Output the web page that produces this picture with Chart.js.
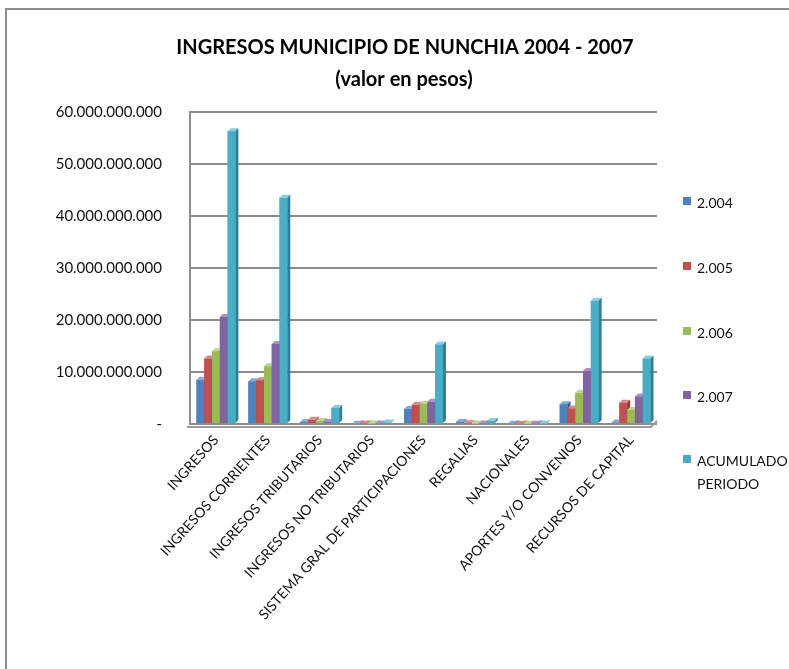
<!DOCTYPE html>
<html>
<head>
<meta charset="utf-8">
<script src="https://cdn.jsdelivr.net/npm/chart.js@4.4.1/dist/chart.umd.min.js"></script>
<style>
  body { margin: 0; background: #fff; font-family: Lato, "Open Sans", sans-serif; }
  #wrap { position: relative; width: 789px; height: 669px; overflow: hidden; }
  #frame { position: absolute; left: 5px; top: 8px; width: 800px; height: 700px;
           border-top: 2px solid #8c8c8c; border-left: 2px solid #8c8c8c; }
  #chart { position: absolute; left: 0; top: 0; }
  #legend { position: absolute; left: 683px; top: 0; font-size: 14px; color: #111; }
  .item { position: absolute; left: 0; white-space: nowrap; line-height: 23px; }
  .item i { display: inline-block; width: 8px; height: 8px; margin-right: 6px; vertical-align: 3px; }
  .item span { display: inline-block; vertical-align: top; }
</style>
</head>
<body>
<div id="wrap">
  <div id="frame"></div>
  <canvas id="chart" width="789" height="669"></canvas>
  <div id="legend"></div>
</div>
<script>
// categories and series (pesos)
const categories = ['INGRESOS', 'INGRESOS CORRIENTES', 'INGRESOS TRIBUTARIOS', 'INGRESOS NO TRIBUTARIOS',
  'SISTEMA GRAL DE PARTICIPACIONES', 'REGALIAS', 'NACIONALES', 'APORTES Y/O CONVENIOS', 'RECURSOS DE CAPITAL'];
const seriesNames = ['2.004', '2.005', '2.006', '2.007', ['ACUMULADO', 'PERIODO']];
const y2004 = [8.5e9, 8.2e9, 0.4e9, 0.05e9, 2.9e9, 0.4e9, 0.05e9, 3.8e9, 0.3e9];
const y2005 = [12.6e9, 8.4e9, 0.8e9, 0.1e9, 3.7e9, 0.15e9, 0.05e9, 3.0e9, 4.1e9];
const y2006 = [14.0e9, 11.1e9, 0.6e9, 0.1e9, 3.9e9, 0.1e9, 0.05e9, 6.0e9, 2.7e9];
const y2007 = [20.6e9, 15.4e9, 0.4e9, 0.1e9, 4.3e9, 0.1e9, 0.05e9, 10.2e9, 5.3e9];
const acumulado = [56.3e9, 43.5e9, 3.1e9, 0.3e9, 15.3e9, 0.6e9, 0.1e9, 23.7e9, 12.6e9];
const yTicks = [0, 10e9, 20e9, 30e9, 40e9, 50e9, 60e9];
const titleLines = ['INGRESOS MUNICIPIO DE NUNCHIA 2004 - 2007', '(valor en pesos)'];

const fronts = ['#4F81BD', '#C0504D', '#9BBB59', '#8064A2', '#4BACC6'];
const tops   = ['#86A8D6', '#D98A88', '#BDD68F', '#A790C6', '#86CFE2'];
const sides  = ['#385D8A', '#8C3836', '#71893F', '#5C4776', '#2F7F95'];
const D = 3;

const fmt = v => v === 0 ? '-' : String(v).replace(/\B(?=(\d{3})+(?!\d))/g, '.');

// fake 3d: redraw bars left to right with a top and a right side face
const bar3d = {
  id: 'bar3d',
  beforeDatasetsDraw(chart) {
    const { ctx, chartArea: a } = chart;
    ctx.save();
    ctx.strokeStyle = '#9a9a9a';
    ctx.lineWidth = 2;
    ctx.beginPath();
    ctx.moveTo(a.left - 3, a.bottom + 3);
    ctx.lineTo(a.right - 6, a.bottom + 3);
    ctx.lineTo(a.right, a.bottom - 3);
    ctx.stroke();
    ctx.restore();
  },
  afterDatasetsDraw(chart) {
    const ctx = chart.ctx;
    chart.data.datasets.forEach((ds, i) => {
      chart.getDatasetMeta(i).data.forEach(bar => {
        bar.draw(ctx);
        const { x, y, base, width } = bar.getProps(['x', 'y', 'base', 'width'], true);
        const l = x - width / 2, r = x + width / 2;
        ctx.save();
        ctx.fillStyle = tops[i];
        ctx.beginPath();
        ctx.moveTo(l, y); ctx.lineTo(l + D, y - D); ctx.lineTo(r + D, y - D); ctx.lineTo(r, y);
        ctx.closePath(); ctx.fill();
        ctx.fillStyle = sides[i];
        ctx.beginPath();
        ctx.moveTo(r, y); ctx.lineTo(r + D, y - D); ctx.lineTo(r + D, base - D); ctx.lineTo(r, base);
        ctx.closePath(); ctx.fill();
        ctx.restore();
      });
    });
  },
  afterDraw(chart) {
    const ctx = chart.ctx;
    ctx.save();
    ctx.fillStyle = '#000';
    ctx.font = 'bold 20px Lato';
    ctx.textAlign = 'center';
    ctx.textBaseline = 'middle';
    ctx.fillText(titleLines[0], 405, 48);
    ctx.fillText(titleLines[1], 404, 80);
    ctx.restore();
  }
};

const allSeries = [y2004, y2005, y2006, y2007, acumulado];

new Chart(document.getElementById('chart'), {
  type: 'bar',
  data: {
    labels: categories,
    datasets: allSeries.map((s, i) => ({
      label: Array.isArray(seriesNames[i]) ? seriesNames[i].join(' ') : seriesNames[i],
      data: s,
      backgroundColor: fronts[i],
      barPercentage: 1,
      categoryPercentage: 0.75
    }))
  },
  options: {
    responsive: false,
    animation: false,
    layout: { padding: { left: 10, right: 132, top: 112, bottom: 0 } },
    plugins: {
      legend: { display: false },
      tooltip: { enabled: false },
      title: { display: false }
    },
    scales: {
      x: {
        grid: { display: false },
        border: { display: false },
        ticks: {
          color: '#111',
          font: { family: 'Lato', size: 14 },
          minRotation: 48,
          maxRotation: 48,
          autoSkip: false,
          padding: 0
        },
        afterFit: s => { s.height = 245; }
      },
      y: {
        min: 0,
        max: 60e9,
        afterBuildTicks: s => { s.ticks = yTicks.map(v => ({ value: v })); },
        grid: { color: '#8c8c8c', lineWidth: 2, drawTicks: false },
        border: { color: '#8c8c8c', width: 2 },
        ticks: {
          color: '#111',
          font: { family: 'Lato', size: 15 },
          padding: 28,
          callback: v => fmt(v)
        },
        afterFit: s => { s.width = 180; }
      }
    }
  },
  plugins: [bar3d]
});

// legend
const legendTops = [191, 256, 321, 385, 449];
const legend = document.getElementById('legend');
seriesNames.forEach((name, i) => {
  const div = document.createElement('div');
  div.className = 'item';
  div.style.top = legendTops[i] + 'px';
  const txt = Array.isArray(name) ? name.join('<br>') : name;
  div.innerHTML = '<i style="background:' + fronts[i] + '"></i><span>' + txt + '</span>';
  legend.appendChild(div);
});
</script>
</body>
</html>
